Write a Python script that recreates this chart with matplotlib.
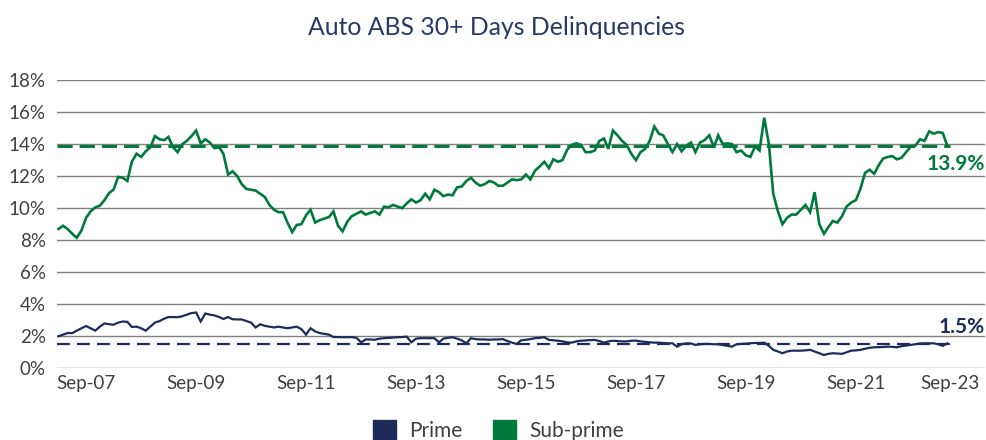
import matplotlib
matplotlib.use("Agg")
import matplotlib.pyplot as plt
import matplotlib.transforms as mtransforms
from matplotlib.patches import Patch
import pandas as pd

# ---- data (monthly, Mar-2007 .. May-2023), % of balances 30+ days delinquent ----
start_month = "2007-03-01"

subprime = [
    8.7, 8.9, 8.7, 8.4, 8.15, 8.6,
    9.4, 9.8, 10.05, 10.15, 10.5, 10.95, 11.15, 11.95, 11.9, 11.7, 12.9, 13.4,
    13.2, 13.55, 13.8, 14.5, 14.3, 14.25, 14.45, 13.8, 13.5, 14.0, 14.2, 14.5,
    14.85, 14.05, 14.3, 14.1, 13.75, 13.8, 13.4, 12.1, 12.3, 12.0, 11.5, 11.2,
    11.15, 11.1, 10.9, 10.7, 10.2, 9.9, 9.75, 9.75, 9.1, 8.5, 8.95, 9.0,
    9.55, 9.9, 9.1, 9.25, 9.35, 9.45, 9.8, 8.9, 8.55, 9.15, 9.5, 9.65,
    9.8, 9.6, 9.7, 9.8, 9.6, 10.1, 10.05, 10.2, 10.1, 10.0, 10.3, 10.55,
    10.35, 10.5, 10.9, 10.55, 11.15, 11.0, 10.75, 10.85, 10.8, 11.3, 11.35, 11.7,
    11.9, 11.6, 11.4, 11.5, 11.7, 11.6, 11.4, 11.4, 11.6, 11.8, 11.75, 11.8,
    12.1, 11.8, 12.35, 12.6, 12.9, 12.5, 13.05, 12.9, 13.0, 13.65, 13.95, 14.05,
    13.95, 13.5, 13.5, 13.6, 14.2, 14.35, 13.7, 14.85, 14.55, 14.2, 13.95, 13.4,
    13.0, 13.5, 13.7, 14.2, 15.1, 14.65, 14.55, 14.0, 13.5, 14.0, 13.55, 13.9,
    14.1, 13.5, 14.1, 14.25, 14.55, 13.8, 14.55, 14.0, 14.05, 14.0, 13.5, 13.6,
    13.3, 13.2, 13.85, 13.6, 15.65, 14.0, 10.9, 9.8, 9.0, 9.4, 9.6, 9.6,
    9.9, 10.2, 9.75, 11.0, 9.0, 8.4, 8.8, 9.2, 9.1, 9.5, 10.1, 10.35,
    10.5, 11.2, 12.2, 12.4, 12.15, 12.7, 13.1, 13.2, 13.25, 13.05, 13.15, 13.5,
    13.85, 13.9, 14.3, 14.2, 14.8, 14.65, 14.75, 14.7, 13.9,
]

prime = [
    2.0, 2.1, 2.2, 2.2, 2.35, 2.5,
    2.64, 2.5, 2.35, 2.6, 2.8, 2.75, 2.72, 2.85, 2.92, 2.9, 2.58, 2.6,
    2.5, 2.35, 2.6, 2.85, 2.95, 3.1, 3.2, 3.2, 3.19, 3.25, 3.35, 3.45,
    3.48, 2.92, 3.42, 3.35, 3.3, 3.2, 3.08, 3.2, 3.06, 3.05, 3.05, 2.95,
    2.85, 2.55, 2.75, 2.65, 2.6, 2.55, 2.6, 2.55, 2.5, 2.55, 2.6, 2.45,
    2.1, 2.5, 2.3, 2.2, 2.15, 2.1, 1.95, 1.95, 1.94, 1.94, 1.95, 1.9,
    1.62, 1.8, 1.8, 1.78, 1.85, 1.88, 1.9, 1.92, 1.94, 1.95, 1.98, 1.62,
    1.85, 1.88, 1.88, 1.88, 1.88, 1.62, 1.85, 1.9, 1.94, 1.85, 1.75, 1.56,
    1.88, 1.82, 1.8, 1.8, 1.78, 1.8, 1.8, 1.82, 1.7, 1.6, 1.52, 1.75,
    1.78, 1.82, 1.88, 1.9, 1.94, 1.77, 1.75, 1.72, 1.68, 1.62, 1.6, 1.68,
    1.72, 1.74, 1.76, 1.77, 1.7, 1.6, 1.68, 1.72, 1.7, 1.68, 1.68, 1.72,
    1.73, 1.68, 1.65, 1.62, 1.6, 1.6, 1.58, 1.56, 1.56, 1.35, 1.5, 1.56,
    1.55, 1.46, 1.5, 1.52, 1.52, 1.5, 1.5, 1.45, 1.4, 1.35, 1.5, 1.52,
    1.54, 1.56, 1.58, 1.58, 1.6, 1.4, 1.15, 1.05, 0.94, 1.05, 1.1, 1.1,
    1.1, 1.12, 1.15, 1.05, 0.94, 0.83, 0.9, 0.94, 0.92, 0.9, 1.0, 1.1,
    1.12, 1.15, 1.22, 1.28, 1.31, 1.32, 1.33, 1.35, 1.34, 1.31, 1.38, 1.42,
    1.46, 1.5, 1.55, 1.56, 1.56, 1.56, 1.5, 1.4, 1.55,
]

subprime_ref = 13.9
prime_ref = 1.5
subprime_label = "13.9%"
prime_label = "1.5%"

tick_dates = ["2007-09-01", "2009-09-01", "2011-09-01", "2013-09-01", "2015-09-01",
              "2017-09-01", "2019-09-01", "2021-09-01", "2023-09-01"]
tick_labels = ["Sep-07", "Sep-09", "Sep-11", "Sep-13", "Sep-15",
               "Sep-17", "Sep-19", "Sep-21", "Sep-23"]
y_ticks = [0, 2, 4, 6, 8, 10, 12, 14, 16, 18]

title = "Auto ABS 30+ Days Delinquencies"
series_names = ["Prime", "Sub-prime"]

# ---- style ----
NAVY = "#1c2b5a"
GREEN = "#007a3c"
GRID = "#808080"
TXT = "#404040"
plt.rcParams["font.family"] = ["Lato", "DejaVu Sans"]

dates = pd.date_range(start_month, periods=len(subprime), freq="MS")

fig = plt.figure(figsize=(9.87, 4.40), dpi=100)
ax = fig.add_axes([0.0578, 0.163, 0.9402, 0.655])

for yv in y_ticks:
    ax.axhline(yv, color=GRID, lw=1.0, zorder=1)

ax.plot(dates[:len(subprime)], subprime, color=GREEN, lw=1.9, zorder=3,
        solid_joinstyle="miter")
ax.plot(dates[:len(prime)], prime, color=NAVY, lw=1.6, zorder=3,
        solid_joinstyle="miter")

l1 = ax.axhline(subprime_ref, xmin=0.0, xmax=0.962, color=GREEN, lw=2.1, zorder=2)
l1.set_dashes((5.2, 2.4))
l2 = ax.axhline(prime_ref, xmin=0.0, xmax=0.962, color=NAVY, lw=1.6, zorder=2)
l2.set_dashes((5.8, 3.2))

ax.set_ylim(0, 18)
ax.set_xlim(pd.Timestamp("2007-02-20"), pd.Timestamp("2024-01-07"))
ax.set_yticks(y_ticks)
ax.set_yticklabels([f"{v}%" for v in y_ticks])
ax.set_xticks(pd.to_datetime(tick_dates))
ax.set_xticklabels(tick_labels)
ax.tick_params(axis="both", length=0, labelsize=13.5, labelcolor=TXT)
ax.tick_params(axis="y", pad=8)
ax.tick_params(axis="x", pad=5)
for s in ax.spines.values():
    s.set_visible(False)

# shift last x label left to stay inside figure
last = ax.get_xticklabels()[-1]
last.set_transform(last.get_transform() + mtransforms.ScaledTranslation(-16 / 100, 0, fig.dpi_scale_trans))

ax.text(1.0, subprime_ref - 0.5, subprime_label, transform=ax.get_yaxis_transform(),
        ha="right", va="top", color=GREEN, fontsize=15, fontweight="bold")
ax.text(1.0, prime_ref + 0.45, prime_label, transform=ax.get_yaxis_transform(),
        ha="right", va="bottom", color=NAVY, fontsize=15, fontweight="bold")

fig.text(0.503, 0.938, title, ha="center", va="center", color="#2a3a68", fontsize=17.8)

handles = [Patch(facecolor=NAVY, edgecolor=NAVY), Patch(facecolor=GREEN, edgecolor=GREEN)]
fig.legend(handles, series_names, loc="upper center", bbox_to_anchor=(0.505, 0.046),
           ncol=2, frameon=False, fontsize=15, handlelength=1.1, handleheight=1.1,
           handletextpad=0.6, columnspacing=1.5, labelcolor=TXT, borderaxespad=0,
           borderpad=0)

fig.savefig("out.png", dpi=100)
